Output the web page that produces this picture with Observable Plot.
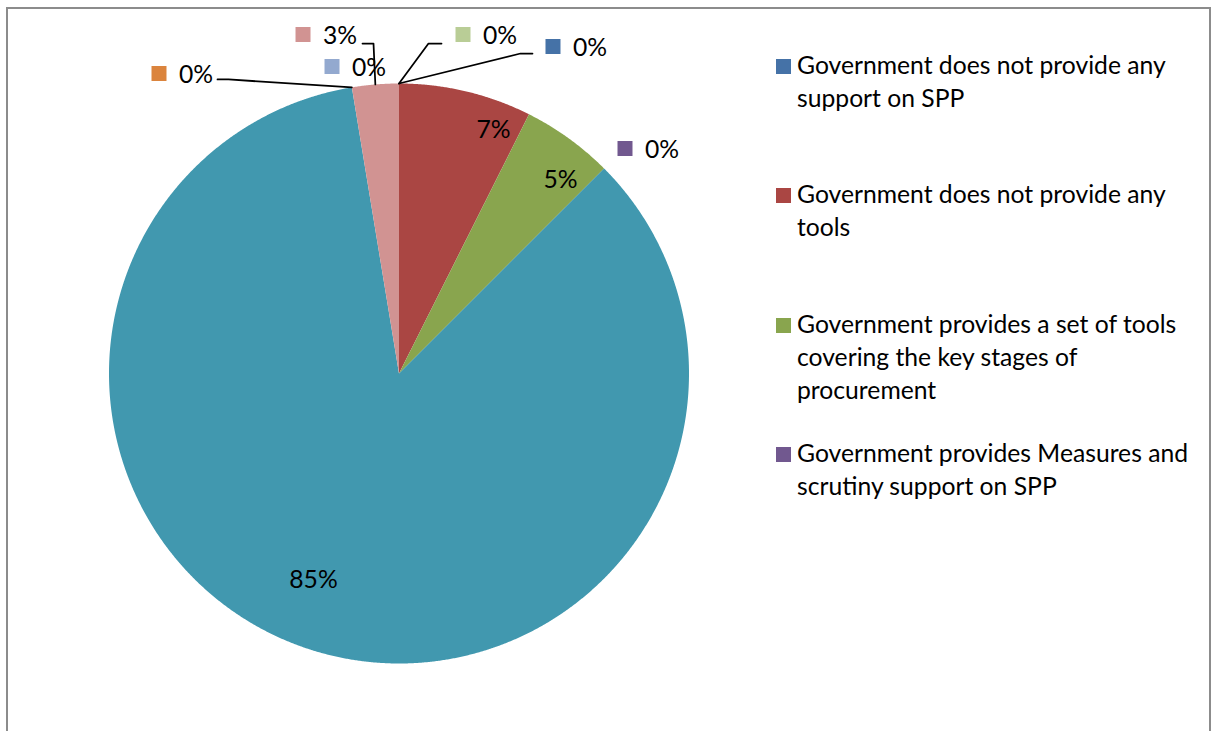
<!DOCTYPE html>
<html><head><meta charset="utf-8">
<script src="https://cdn.jsdelivr.net/npm/d3@7"></script>
<script src="https://cdn.jsdelivr.net/npm/@observablehq/plot@0.6"></script>
<style>
html,body{margin:0;padding:0;background:#fff;overflow:hidden;width:1216px;height:731px;}
#frame{position:absolute;left:6px;top:7px;width:1201px;height:800px;border:2px solid #8c8c8c;border-bottom:none;}
#chart{position:absolute;left:0;top:0;}
#legend{position:absolute;left:776px;top:0;font-family:Lato, sans-serif;color:#000;}
.entry{position:absolute;left:0;display:flex;align-items:flex-start;}
.sw{width:15px;height:15px;flex:none;margin-right:6px;}
.txt{line-height:33px;white-space:nowrap;}
</style></head><body>
<div id="frame"></div>
<div id="chart"></div>
<div id="legend"></div>
<script>
// ---- data ----
const categories = [
  "Government does not provide any support on SPP",
  "Government does not provide any tools",
  "Government provides a set of tools covering the key stages of procurement",
  "Government provides Measures and scrutiny support on SPP",
  "Category 5", "Category 6", "Category 7", "Category 8", "Category 9"
];
const values = [0, 7.4, 5.1, 0, 84.9, 0, 0, 2.6, 0];
const colors = ["#4572A7", "#AA4643", "#89A54E", "#71588F", "#4198AF", "#DB843D", "#93A9CF", "#D19392", "#B9CD96"];
const legendLines = [
  ["Government does not provide any", "support on SPP"],
  ["Government does not provide any", "tools"],
  ["Government provides a set of tools", "covering the key stages of", "procurement"],
  ["Government provides Measures and", "scrutiny support on SPP"]
];

// ---- layout (pie units, radius = 1) ----
const labelX = [0.5310, 0.3259, 0.5569, 0.7793, -0.2948, -0.8276, -0.2310, -0.3310, 0.2207];
const labelY = [1.1276, 0.8448, 0.6724, 0.7759, -0.7069, 1.0345, 1.0586, 1.1690, 1.1690];
// leader lines: [startX, startY, elbowX, elbowY] or null
const leaders = [
  [0.4603, 1.1034, 0.4190, 1.1034],
  null, null, null, null,
  [-0.6259, 1.0138, -0.5879, 1.0138],
  null,
  [-0.1259, 1.1379, -0.0879, 1.1379],
  [0.1466, 1.1379, 0.1017, 1.1379]
];

// font size fitted to the original legend line width
const ctx = document.createElement("canvas").getContext("2d");
ctx.font = "100px Lato";
const fs = Math.round(369 / ctx.measureText("Government does not provide any").width * 100 * 10) / 10;

const total = d3.sum(values);
const arcs = d3.pie().sort(null).value(d => d)(values);

const slicePts = [];
arcs.forEach((a, i) => {
  if (values[i] <= 0) return;
  slicePts.push({cat: categories[i], x: 0, y: 0});
  const n = Math.max(2, Math.ceil((a.endAngle - a.startAngle) / 0.004));
  for (let k = 0; k <= n; k++) {
    const t = a.startAngle + (a.endAngle - a.startAngle) * k / n;
    slicePts.push({cat: categories[i], x: Math.sin(t), y: Math.cos(t)});
  }
});

const labels = arcs.map((a, i) => ({
  cat: categories[i], x: labelX[i], y: labelY[i],
  text: Math.round(values[i] / total * 100) + "%",
  outside: values[i] === 0 || labelY[i] > 1 || Math.hypot(labelX[i], labelY[i]) > 1
}));
const inside = labels.filter(d => !d.outside);
const outside = labels.filter(d => d.outside);

const leaderPts = [];
arcs.forEach((a, i) => {
  const L = leaders[i];
  if (!L) return;
  const t = (a.startAngle + a.endAngle) / 2;
  leaderPts.push({id: i, x: L[0], y: L[1]});
  leaderPts.push({id: i, x: L[2], y: L[3]});
  leaderPts.push({id: i, x: Math.sin(t), y: Math.cos(t)});
});

const cx = 398.5, cy = 373, R = 290;
const chart = Plot.plot({
  width: 1216, height: 731, margin: 0,
  x: {domain: [-1, 1], range: [cx - R, cx + R], axis: null},
  y: {domain: [-1, 1], range: [cy + R, cy - R], axis: null},
  color: {domain: categories, range: colors},
  style: {fontFamily: "Lato, sans-serif", fontSize: fs + "px", background: "transparent", overflow: "visible"},
  marks: [
    Plot.line(slicePts, {x: "x", y: "y", z: "cat", fill: "cat", stroke: null, curve: "linear-closed"}),
    Plot.line(leaderPts, {x: "x", y: "y", z: "id", stroke: "#000", strokeWidth: 1.75, curve: "linear"}),
    Plot.text(inside, {x: "x", y: "y", text: "text", fill: "#000", textAnchor: "middle", lineAnchor: "middle", dy: 1.5}),
    Plot.dot(outside, {x: "x", y: "y", fill: "cat", stroke: null, symbol: "square", r: 8.46}),
    Plot.text(outside, {x: "x", y: "y", text: "text", fill: "#000", textAnchor: "start", lineAnchor: "middle", dx: 20, dy: 1.5})
  ]
});
document.getElementById("chart").appendChild(chart);

// legend
const legend = document.getElementById("legend");
legend.style.fontSize = fs + "px";
const baseOff = (33 - 1.2 * fs) / 2 + 0.987 * fs;
legendLines.forEach((lines, i) => {
  const e = document.createElement("div");
  e.className = "entry";
  const top = 74 + i * 129.33 - baseOff;
  e.style.top = top + "px";
  const sw = document.createElement("div");
  sw.className = "sw";
  sw.style.background = colors[i];
  sw.style.marginTop = (74 - 7.5 - 7.5 - (74 - baseOff)) + "px";
  const tx = document.createElement("div");
  tx.className = "txt";
  tx.innerHTML = lines.map(s => s.replace(/&/g, "&amp;")).join("<br>");
  e.appendChild(sw); e.appendChild(tx);
  legend.appendChild(e);
});
</script>
</body></html>
